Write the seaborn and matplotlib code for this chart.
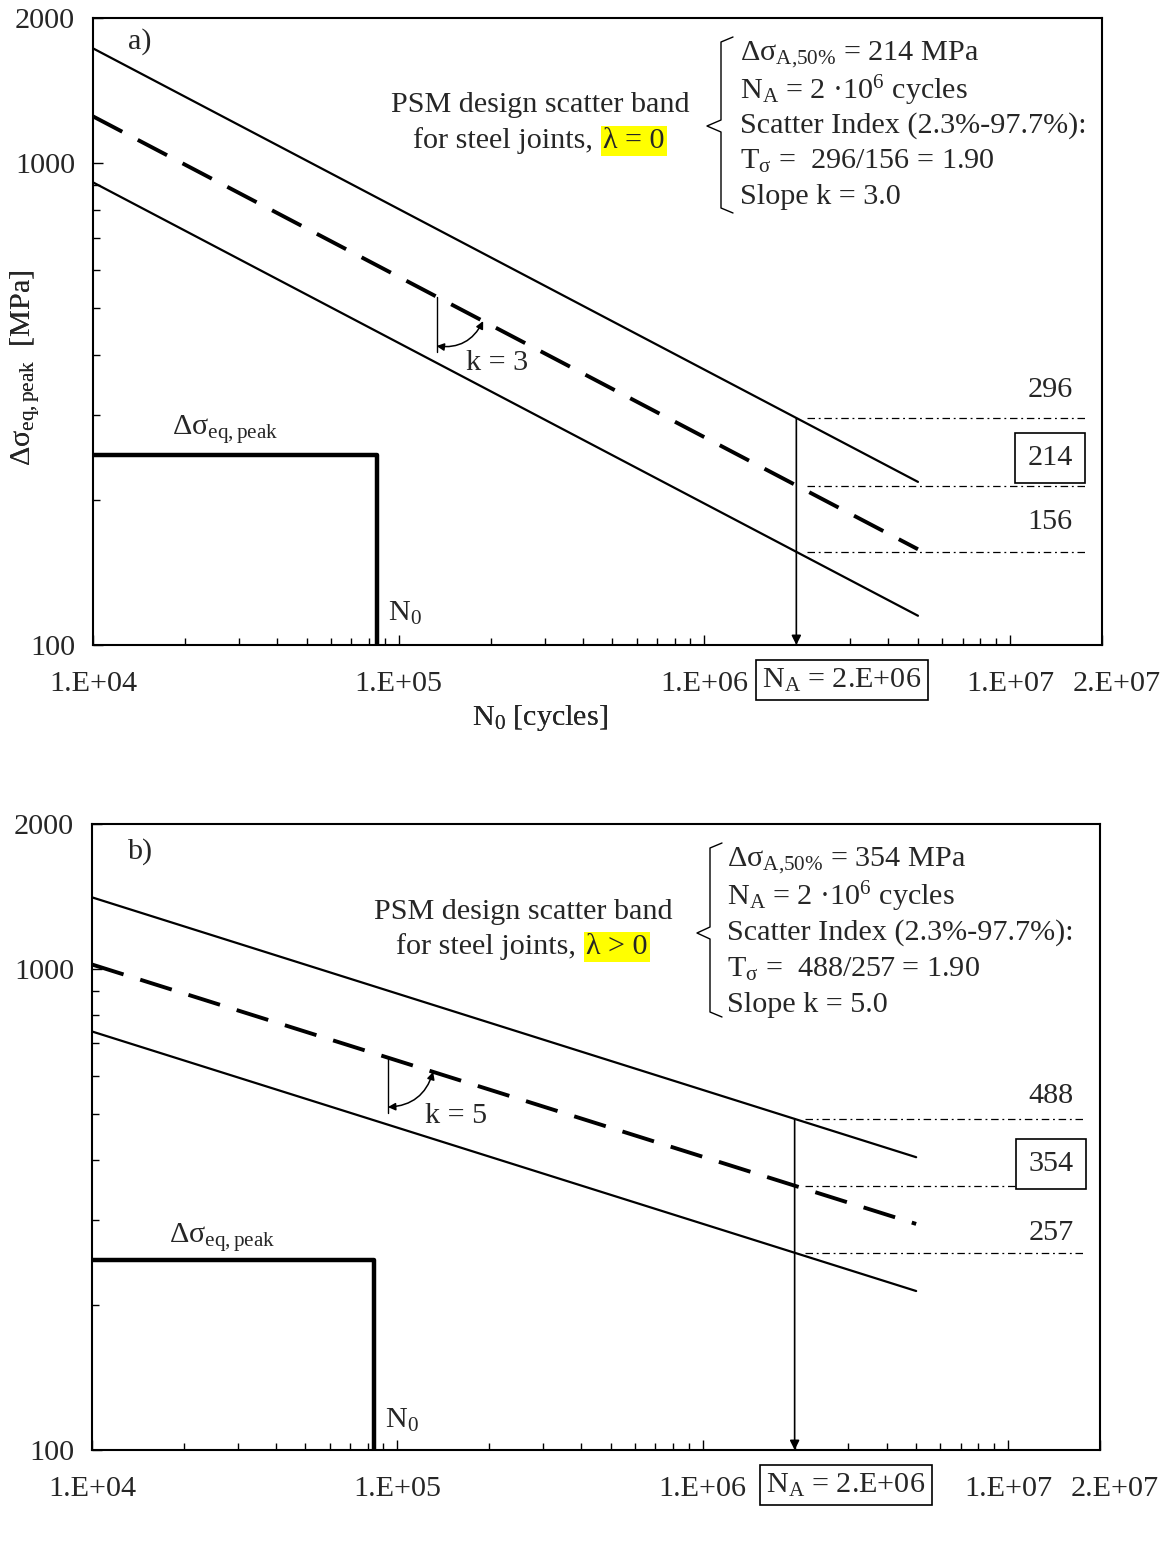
import matplotlib
matplotlib.use("Agg")
import matplotlib.pyplot as plt
from matplotlib.ticker import FixedLocator, NullFormatter
from matplotlib.transforms import ScaledTranslation
import seaborn as sns

# values
N_LINE = [1e4, 5e6]                     # start / end of the scatter band lines
A_UPPER = [1730, 218]
A_MEAN = [1250, 158]
A_LOWER = [912, 115]
B_UPPER = [1408, 406]
B_MEAN = [1021, 295]
B_LOWER = [741, 214]

N_A = 2e6
A_REF = [296, 214, 156]                 # 97.7%, 50%, 2.3% at N_A
B_REF = [488, 354, 257]
REF_END = 1.76e7

A_STEP_N = [1e4, 8.5e4, 8.5e4]
A_STEP_S = [248, 248, 100]
B_STEP_N = [1e4, 8.4e4, 8.4e4]
B_STEP_S = [248, 248, 100]

X_TICKS = [1e4, 1e5, 1e6, 1e7, 2e7]
X_LABELS = ["1.E+04", "1.E+05", "1.E+06", "1.E+07", "2.E+07"]
Y_TICKS = [100, 1000, 2000]
Y_LABELS = ["100", "1000", "2000"]

sns.set_style("ticks")
plt.rcParams["font.family"] = ["Liberation Serif", "DejaVu Serif"]
plt.rcParams["mathtext.fontset"] = "custom"
plt.rcParams["mathtext.rm"] = "Liberation Serif"
plt.rcParams["mathtext.it"] = "Liberation Serif"

FS = 21.7
W, H = 1167, 1542
fig = plt.figure(figsize=(W / 100, H / 100), dpi=100)

BOX_A = (93, 18, 1102, 645)
BOX_B = (92, 824, 1100, 1450)


def make_axes(box):
    l, t, r, b = box
    return fig.add_axes([l / W, 1 - b / H, (r - l) / W, (b - t) / H])


def at(box, px, py):
    l, t, r, b = box
    return ((px - l) / (r - l), (b - py) / (b - t))


def setup(ax, box):
    ax.set_xscale("log")
    ax.set_yscale("log")
    ax.set_xlim(1e4, 2e7)
    ax.set_ylim(100, 2000)
    ax.set_xticks(X_TICKS, labels=X_LABELS)
    ax.set_yticks(Y_TICKS, labels=Y_LABELS)
    ax.xaxis.set_minor_locator(FixedLocator(
        [m * 10 ** e for e in (4, 5, 6) for m in range(2, 10)]))
    ax.yaxis.set_minor_locator(FixedLocator(list(range(200, 1000, 100))))
    ax.xaxis.set_minor_formatter(NullFormatter())
    ax.yaxis.set_minor_formatter(NullFormatter())
    ax.tick_params(which="both", direction="in", labelsize=FS, color="k",
                   top=False, right=False, width=1)
    ax.tick_params(which="major", length=7)
    ax.tick_params(which="minor", length=5)
    ax.tick_params(axis="x", which="major", pad=19)
    ax.tick_params(axis="y", which="major", pad=13)
    # last x label sits a bit to the right of its tick
    last = ax.get_xticklabels()[-1]
    last.set_transform(last.get_transform()
                       + ScaledTranslation(0.15, 0, fig.dpi_scale_trans))
    for s in ax.spines.values():
        s.set_linewidth(1.5)
        s.set_color("k")
    ax.set_xlabel(r"N$_0$ [cycles]", fontsize=FS)
    ax.set_ylabel(r"Δσ$_{\mathrm{eq,peak}}$  [MPa]", fontsize=FS)
    ax.xaxis.set_label_coords(*at(box, 540, 703))
    ax.yaxis.set_label_coords(*at(box, 42, 368))


def draw_panel(ax, box, upper, mean, lower, ref, step_n, step_s, k,
               tag, lam, info, pos):
    setup(ax, box)
    sns.lineplot(x=N_LINE, y=upper, ax=ax, color="k", lw=1.6)
    sns.lineplot(x=N_LINE, y=lower, ax=ax, color="k", lw=1.6)
    sns.lineplot(x=N_LINE, y=mean, ax=ax, color="k", lw=2.8,
                 linestyle=(0, (8.5, 4.5)))
    sns.lineplot(x=step_n, y=step_s, ax=ax, color="k", lw=3.2,
                 estimator=None, sort=False)
    for v in ref:
        sns.lineplot(x=[2.17e6, REF_END], y=[v, v], ax=ax, color="k", lw=0.9,
                     linestyle=(0, (6, 3, 1.5, 3)))
    # vertical arrow at N_A
    ax.annotate("", xy=(N_A, 100), xytext=(N_A, ref[0]),
                arrowprops=dict(arrowstyle="-|>", color="k", lw=1.2,
                                mutation_scale=14, shrinkA=0, shrinkB=0))

    # slope marker
    kx, ktop, kbot, kx2, ky2 = pos["slope"]
    ax.plot([kx, kx], [ktop, kbot], color="k", lw=1)
    ax.annotate("", xy=(kx2, ky2), xytext=(kx, kbot * 1.03),
                arrowprops=dict(arrowstyle="<|-|>", color="k", lw=1.1,
                                mutation_scale=11, shrinkA=0, shrinkB=0,
                                connectionstyle="arc3,rad=0.35"))
    ax.text(*at(box, *pos["k"]), f"k = {k}", transform=ax.transAxes,
            fontsize=FS, ha="center", va="center")

    ax.text(*at(box, *pos["tag"]), tag, transform=ax.transAxes,
            fontsize=FS, ha="center", va="center")

    # labels of the reference stresses
    lx = pos["reflabel_x"]
    for (py, v, boxed) in zip(pos["reflabel_y"], ref, [False, True, False]):
        t = ax.text(*at(box, lx, py), str(v), transform=ax.transAxes,
                    fontsize=FS, ha="center", va="center")
        if boxed:
            t.set_bbox(dict(boxstyle="square,pad=0.4", fc="white",
                            ec="k", lw=1.2))

    ax.text(*at(box, *pos["na"]), r"N$_\mathrm{A}$ = 2.E+06",
            transform=ax.transAxes, fontsize=FS, ha="center", va="center",
            bbox=dict(boxstyle="square,pad=0.2", fc="white", ec="k", lw=1.2),
            clip_on=False)

    ax.text(*at(box, *pos["peak"]), r"Δσ$_{\mathrm{eq,peak}}$",
            transform=ax.transAxes, fontsize=FS, ha="center", va="center")
    ax.text(*at(box, *pos["n0"]), r"N$_0$", transform=ax.transAxes,
            fontsize=FS, ha="left", va="center")

    # PSM caption
    cx, cy1, cy2, split = pos["psm"]
    ax.text(*at(box, cx, cy1), "PSM design scatter band",
            transform=ax.transAxes, fontsize=FS, ha="center", va="center")
    ax.text(*at(box, split, cy2), "for steel joints, ",
            transform=ax.transAxes, fontsize=FS, ha="right", va="center")
    ax.text(*at(box, split + 3, cy2), lam, transform=ax.transAxes,
            fontsize=FS, ha="left", va="center",
            bbox=dict(boxstyle="square,pad=0.08", fc="yellow", ec="none"))

    # info block with brace
    ix, iy0, dy = pos["info"]
    for i, line in enumerate(info):
        ax.text(*at(box, ix, iy0 + i * dy), line, transform=ax.transAxes,
                fontsize=FS, ha="left", va="center")
    bx, btop, bmid, bbot, tip, hook = pos["brace"]
    pts = [(hook, btop), (bx, btop + 5), (bx, bmid - 6), (tip, bmid),
           (bx, bmid + 6), (bx, bbot - 5), (hook, bbot)]
    xs, ys = zip(*[at(box, p, q) for p, q in pts])
    ax.plot(xs, ys, color="k", lw=1, transform=ax.transAxes, clip_on=False)


ax1 = make_axes(BOX_A)
ax2 = make_axes(BOX_B)

info_a = [r"Δσ$_{\mathrm{A{,}50\%}}$ = 214 MPa",
          r"N$_\mathrm{A}$ = 2 ·10$^6$ cycles",
          "Scatter Index (2.3%-97.7%):",
          r"T$_σ$ =  296/156 = 1.90",
          "Slope k = 3.0"]
info_b = [r"Δσ$_{\mathrm{A{,}50\%}}$ = 354 MPa",
          r"N$_\mathrm{A}$ = 2 ·10$^6$ cycles",
          "Scatter Index (2.3%-97.7%):",
          r"T$_σ$ =  488/257 = 1.90",
          "Slope k = 5.0"]

pos_a = dict(slope=(1.33e5, 527, 405, 1.89e5, 470), k=(497, 363),
             tag=(140, 42), reflabel_x=1050, reflabel_y=[390, 458, 522],
             na=(842, 680), peak=(225, 430), n0=(388, 613),
             psm=(540, 105, 141, 600), info=(740, 55, 35.5),
             brace=(721, 37, 126, 213, 707, 733))
pos_b = dict(slope=(9.31e4, 654, 501, 1.31e5, 611), k=(456, 1116),
             tag=(140, 852), reflabel_x=1051, reflabel_y=[1096, 1164, 1233],
             na=(846, 1485), peak=(222, 1238), n0=(385, 1420),
             psm=(523, 912, 947, 583), info=(727, 861, 36),
             brace=(710, 843, 933, 1017, 697, 722))

draw_panel(ax1, BOX_A, A_UPPER, A_MEAN, A_LOWER, A_REF, A_STEP_N, A_STEP_S,
           3, "a)", "λ = 0", info_a, pos_a)
draw_panel(ax2, BOX_B, B_UPPER, B_MEAN, B_LOWER, B_REF, B_STEP_N, B_STEP_S,
           5, "b)", "λ > 0", info_b, pos_b)

fig.savefig("out.png", dpi=100)
